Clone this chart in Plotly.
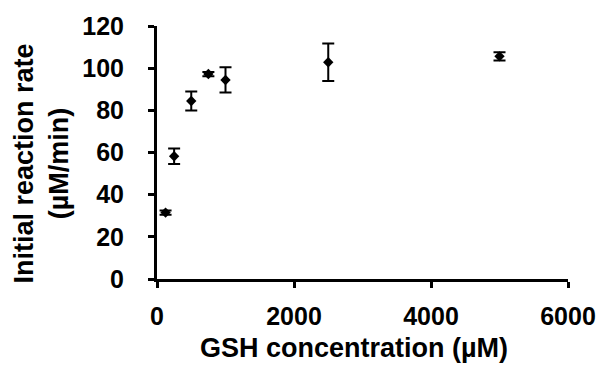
import plotly.graph_objects as go

gsh_conc = [125, 250, 500, 750, 1000, 2500, 5000]
rate = [31.5, 58.2, 84.4, 97.2, 94.4, 102.8, 105.6]
rate_err = [1.0, 3.7, 4.5, 1.0, 6.0, 8.9, 2.0]
x_ticks = [0, 2000, 4000, 6000]
y_ticks = [0, 20, 40, 60, 80, 100, 120]

fig = go.Figure()
fig.add_trace(go.Scatter(
    x=gsh_conc, y=rate, mode="markers",
    marker=dict(symbol="diamond", size=8, color="black"),
    error_y=dict(type="data", array=rate_err, visible=True,
                 color="black", thickness=2, width=6),
    showlegend=False,
))

font = dict(family="Liberation Sans, Arial, sans-serif", color="black")
fig.update_layout(
    width=608, height=365,
    margin=dict(l=157, r=31, t=20, b=86),
    paper_bgcolor="white", plot_bgcolor="white",
    font=font,
)
fig.update_xaxes(
    range=[0, 6000], tickvals=x_ticks, ticktext=[f"<b>{v}</b>" for v in x_ticks],
    showline=True, linecolor="black", linewidth=3,
    ticks="outside", ticklen=6, tickwidth=3, tickcolor="black",
    showgrid=False, zeroline=False,
    tickfont=dict(size=25, **font), ticklabelstandoff=7,
)
fig.update_yaxes(
    range=[0, 120], tickvals=y_ticks, ticktext=[f"<b>{v}</b>" for v in y_ticks],
    showline=True, linecolor="black", linewidth=3,
    ticks="outside", ticklen=6, tickwidth=3, tickcolor="black",
    showgrid=False, zeroline=False,
    tickfont=dict(size=25, **font), ticklabelstandoff=19,
)
fig.add_annotation(
    text="<b>GSH concentration (µM)</b>", xref="paper", yref="paper",
    x=0.5, y=0, xanchor="center", yanchor="middle", xshift=-9, yshift=-69,
    showarrow=False, font=dict(size=27, **font),
)
fig.add_annotation(
    text="<b>Initial reaction rate<br>(µM/min)</b>", xref="paper", yref="paper",
    x=0, y=0.5, xanchor="center", yanchor="middle", xshift=-116, yshift=-11,
    textangle=-90, showarrow=False, font=dict(size=27, **font),
)
fig.write_html("out.html")
